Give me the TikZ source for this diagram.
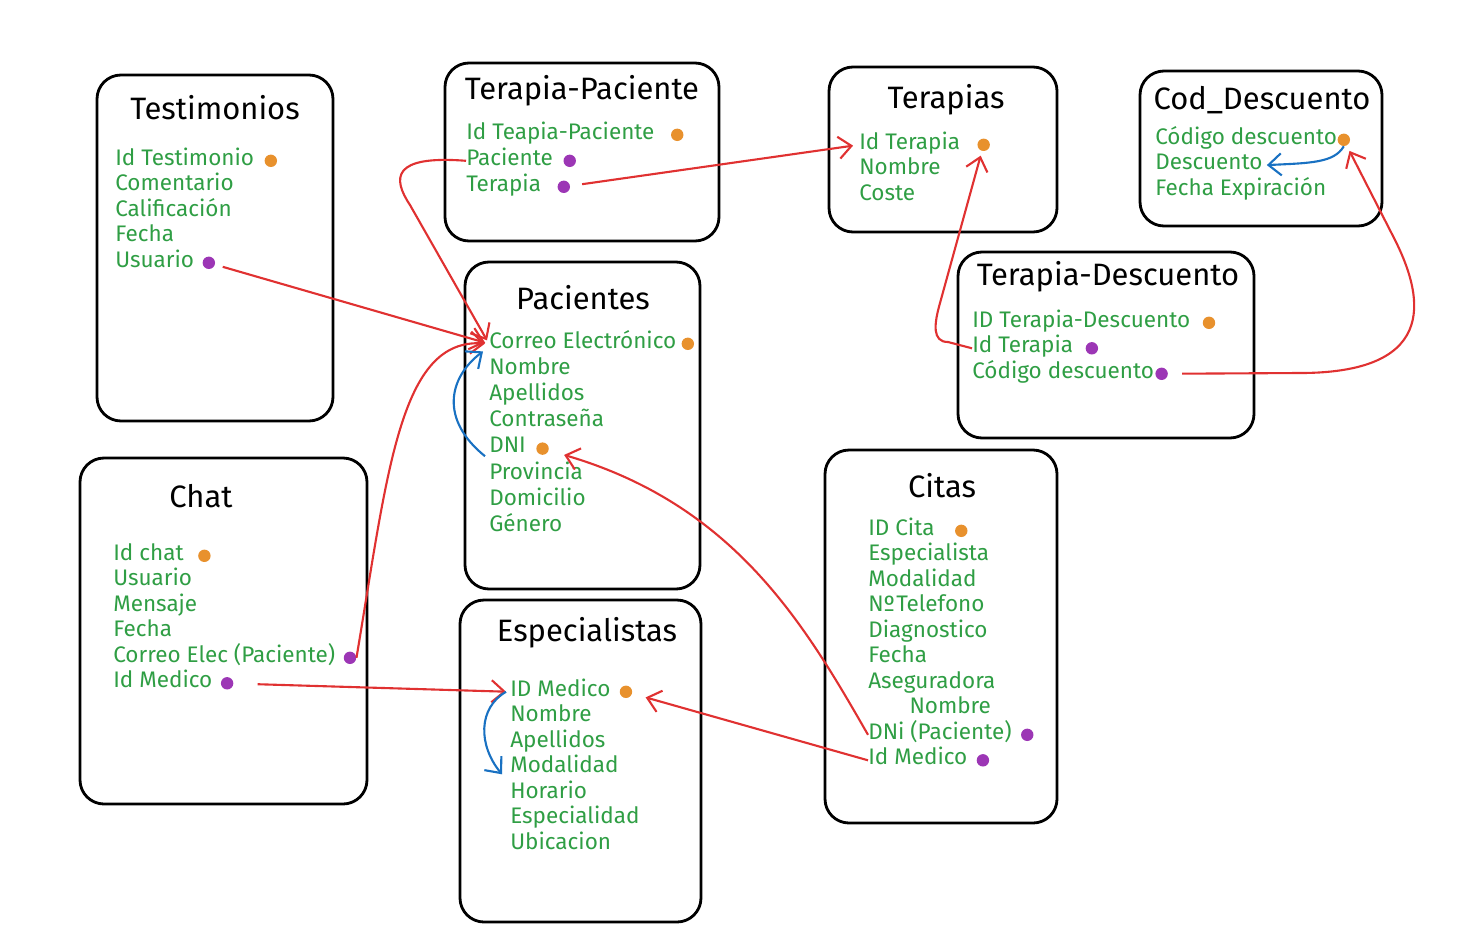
\documentclass[tikz,border=0pt]{standalone}
\usepackage{fontspec}
\setmainfont{Fira Sans}
\usetikzlibrary{arrows.meta, positioning}
\definecolor{campoverde}{HTML}{2F9E44}
\definecolor{rojo}{HTML}{E03131}
\definecolor{azul}{HTML}{1971C2}
\definecolor{naranja}{HTML}{E8912D}
\definecolor{morado}{HTML}{9C36B5}

\begin{document}
\begin{tikzpicture}[x=0.025cm, y=-0.025cm,
    tabla/.style={draw, line width=2pt, rounded corners=0.6cm},
    titulo/.style={font=\fontsize{22}{26}\selectfont},
    campo/.style={anchor=west, inner sep=0pt, yshift=-0.07cm, text height=0.82em, text depth=0.22em,
        text=campoverde, font=\fontsize{16}{19}\selectfont},
    pk/.style={circle, fill=naranja, inner sep=0pt, minimum size=0.31cm},
    fk/.style={circle, fill=morado, inner sep=0pt, minimum size=0.31cm},
    rel/.style={->, rojo, line width=1.5pt},
    autorel/.style={->, azul, line width=1.5pt},
    >={Straight Barb[length=0.32cm, width=0.55cm]}]
\useasboundingbox (0,0) rectangle (1470,948);

% Testimonios
\draw[tabla] (97,75) rectangle (333,421);
\node[titulo] (tes) at (215,108) {Testimonios};
\foreach \txt [count=\i] in {Id Testimonio, Comentario, Calificación, Fecha, Usuario}
    \node[campo] (tes-\i) at (115,{132.5+25.5*\i}) {\txt};
\node[pk, right=0.25cm of tes-1] (tes-pk) {};
\node[fk, right=0.2cm of tes-5] (tes-fk) {};

% Terapia-Paciente
\draw[tabla] (445,63) rectangle (719,241);
\node[titulo] (tp) at (582,91) {Terapia-Paciente};
\foreach \txt [count=\i] in {Id Teapia-Paciente, Paciente, Terapia}
    \node[campo] (tp-\i) at (466,{106+26*\i}) {\txt};
\node[pk, right=0.4cm of tp-1] (tp-pk) {};
\node[fk, right=0.25cm of tp-2] (tp-fk1) {};
\node[fk, right=0.4cm of tp-3] (tp-fk2) {};

% Terapias
\draw[tabla] (829,67) rectangle (1057,232);
\node[titulo] (ter) at (946,100) {Terapias};
\foreach \txt [count=\i] in {Id Terapia, Nombre, Coste}
    \node[campo] (ter-\i) at (859,{116.5+25.5*\i}) {\txt};
\node[pk, right=0.42cm of ter-1] (ter-pk) {};

% Cod_Descuento
\draw[tabla] (1140,71) rectangle (1382,226);
\node[titulo] (cd) at (1262,100) {Cod\_Descuento};
\foreach \txt [count=\i] in {Código descuento, Descuento, Fecha Expiración}
    \node[campo] (cd-\i) at (1155,{111.5+25.5*\i}) {\txt};
\node[pk, right=0cm of cd-1] (cd-pk) {};

% Terapia-Descuento
\draw[tabla] (958,252) rectangle (1254,438);
\node[titulo] (td) at (1108,277) {Terapia-Descuento};
\foreach \txt [count=\i] in {ID Terapia-Descuento, Id Terapia, Código descuento}
    \node[campo] (td-\i) at (972,{294.5+25.5*\i}) {\txt};
\node[pk, right=0.3cm of td-1] (td-pk) {};
\node[fk, right=0.3cm of td-2] (td-fk1) {};
\node[fk, right=0.02cm of td-3] (td-fk2) {};

% Pacientes
\draw[tabla] (465,262) rectangle (700,589);
\node[titulo] (pac) at (583,298) {Pacientes};
\foreach \txt [count=\i] in {Correo Electrónico, Nombre, Apellidos, Contraseña, DNI, Provincia, Domicilio, Género}
    \node[campo] (pac-\i) at (489,{314.8+26.2*\i}) {\txt};
\node[pk, right=0.12cm of pac-1] (pac-pk1) {};
\node[pk, right=0.25cm of pac-5] (pac-pk2) {};

% Chat
\draw[tabla] (80,458) rectangle (367,804);
\node[titulo] (chat) at (201,496) {Chat};
\foreach \txt [count=\i] in {Id chat, Usuario, Mensaje, Fecha, Correo Elec (Paciente), Id Medico}
    \node[campo] (chat-\i) at (113,{527.5+25.5*\i}) {\txt};
\node[pk, right=0.35cm of chat-1] (chat-pk) {};
\node[fk, right=0.2cm of chat-5] (chat-fk1) {};
\node[fk, right=0.2cm of chat-6] (chat-fk2) {};

% Especialistas
\draw[tabla] (460,600) rectangle (701,922);
\node[titulo] (esp) at (587,633) {Especialistas};
\foreach \txt [count=\i] in {ID Medico, Nombre, Apellidos, Modalidad, Horario, Especialidad, Ubicacion}
    \node[campo] (esp-\i) at (510,{663.5+25.5*\i}) {\txt};
\node[pk, right=0.22cm of esp-1] (esp-pk) {};

% Citas
\draw[tabla] (825,450) rectangle (1057,823);
\node[titulo] (cit) at (942,486) {Citas};
\foreach \txt [count=\i] in {ID Cita, Especialista, Modalidad, Nº\kern1pt Telefono, Diagnostico, Fecha, Aseguradora, \hspace*{1.03cm}Nombre, DNi (Paciente), Id Medico}
    \node[campo] (cit-\i) at (868,{502.5+25.5*\i}) {\txt};
\node[pk, right=0.5cm of cit-1] (cit-pk) {};
\node[fk, right=0.22cm of cit-9] (cit-fk1) {};
\node[fk, right=0.22cm of cit-10] (cit-fk2) {};

% relaciones
\draw[rel, shorten <=0.2cm, shorten >=0.1cm] (tes-fk) -- (pac-1.west);
\draw[rel, shorten >=0.1cm] (tp-2.west) .. controls (392,155) and (392,178) .. (410,205) -- (pac-1.west);
\draw[rel, shorten <=0.3cm, shorten >=0.15cm] (tp-fk2) -- (ter-1.west);
\draw[rel, shorten >=0.1cm] (chat-fk1.east) .. controls (388,470) and (400,338) .. (pac-1.west);
\draw[rel, shorten <=0.6cm, shorten >=0.1cm] (chat-fk2) -- (esp-1.west);
\draw[rel, shorten >=0.4cm] (cit-9.west) .. controls (805,625) and (735,505) .. (pac-pk2);
\draw[rel, shorten >=0.35cm] (cit-10.west) -- (esp-pk);
\draw[rel, shorten >=0.12cm] (td-2.west) -- (948,342) .. controls (932,342) and (934,324) .. (940,303) -- (ter-pk);
\draw[rel, shorten <=0.35cm, shorten >=0.15cm] (td-fk2) -- (1300,373) .. controls (1445,373) and (1420,290) .. (1395,240) -- (cd-pk);

% autorrelaciones
\draw[autorel] ([xshift=-0.1cm]pac-5.south west) .. controls (440,420) and (448,378) .. ([xshift=-0.15cm]pac-1.south west);
\draw[autorel] ([xshift=-0.1cm]esp-1.west) .. controls (478,708) and (478,745) .. ([shift={(-8,6)}]esp-4.west);
\draw[autorel, shorten >=0.1cm] (cd-pk.south) .. controls (1334,163) and (1310,163) .. (cd-2.east);
\end{tikzpicture}
\end{document}
